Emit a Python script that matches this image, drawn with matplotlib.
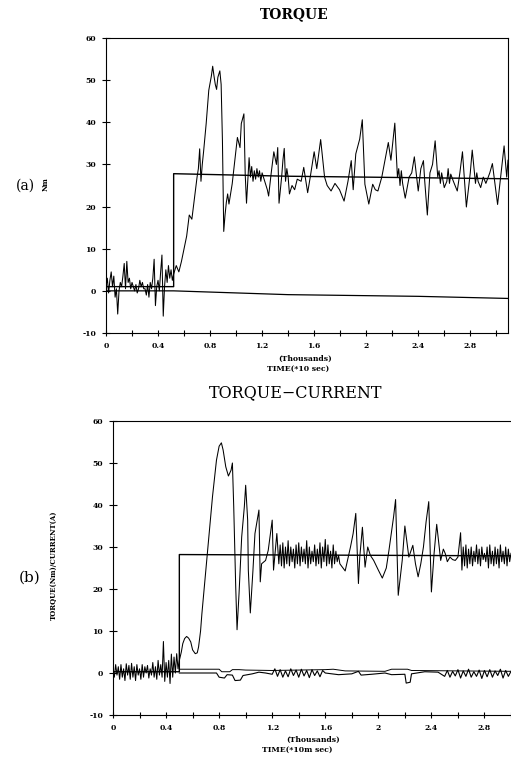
import numpy
import matplotlib
matplotlib.use('Agg')
import matplotlib.pyplot as plt

# ---- data: (time in thousands, value) ----
x_ticks = [0, 0.4, 0.8, 1.2, 1.6, 2.0, 2.4, 2.8]
x_labels = ['0', '0.4', '0.8', '1.2', '1.6', '2', '2.4', '2.8']
y_ticks = [-10, 0, 10, 20, 30, 40, 50, 60]
y_labels = ['-10', '0', '10', '20', '30', '40', '50', '60']

# (a) torque command (step) and the low trace near zero
ref_a = [(0.00, 1.0), (0.52, 1.0), (0.52, 27.8), (1.40, 27.2), (3.09, 26.6)]
low_a = [(0.00, 0.0), (0.52, 0.0), (1.40, -0.9), (2.40, -1.3), (3.09, -1.8)]

# (a) measured torque
torque_a = [
    (0.00, 1.0), (0.01, 3.0), (0.02, -0.5), (0.03, 2.5), (0.04, 4.5), (0.05, 1.0),
    (0.06, 3.5), (0.07, -1.5), (0.08, 0.5), (0.09, -5.5), (0.10, 0.0), (0.11, 2.0),
    (0.12, 1.0), (0.13, 3.5), (0.14, 6.5), (0.15, 0.5), (0.16, 7.0), (0.17, 2.0),
    (0.18, 3.0), (0.19, 0.5), (0.20, 2.0), (0.21, 1.0), (0.22, 0.0), (0.23, 1.5),
    (0.24, -0.5), (0.25, 0.5), (0.26, 2.5), (0.27, 1.0), (0.28, 2.0), (0.29, 0.5),
    (0.30, 0.5), (0.31, -1.0), (0.32, 1.5), (0.33, -1.5), (0.34, 2.0), (0.35, 0.5),
    (0.36, 3.0), (0.37, 7.5), (0.38, -3.5), (0.39, 1.0), (0.40, 2.5), (0.41, 0.0),
    (0.42, 4.5), (0.43, 8.5), (0.44, -6.0), (0.45, 1.0), (0.46, 5.0), (0.47, 2.0),
    (0.48, 6.0), (0.49, 3.0), (0.50, 5.0), (0.51, 2.5), (0.52, 4.0),
    (0.54, 6.0), (0.56, 4.5), (0.58, 7.0), (0.60, 10.0), (0.62, 13.0), (0.64, 18.0),
    (0.66, 17.0), (0.68, 22.0), (0.70, 27.0), (0.71, 29.0), (0.72, 33.7), (0.73, 26.0),
    (0.74, 30.0), (0.75, 33.0), (0.77, 39.7), (0.79, 47.6), (0.81, 51.0), (0.82, 53.3),
    (0.83, 51.0), (0.84, 49.0), (0.85, 47.8), (0.86, 50.7), (0.875, 52.2), (0.885, 49.0),
    (0.895, 35.6), (0.905, 14.1), (0.915, 18.0), (0.925, 21.0), (0.935, 23.0), (0.945, 20.6),
    (0.96, 23.5), (0.97, 25.4), (0.99, 31.0), (1.01, 36.4), (1.03, 34.0), (1.04, 39.7),
    (1.06, 42.0), (1.07, 27.7), (1.08, 20.8), (1.09, 26.0), (1.10, 31.6), (1.11, 27.0),
    (1.12, 29.5), (1.13, 26.0), (1.14, 28.5), (1.15, 26.5), (1.16, 29.0), (1.17, 27.0),
    (1.18, 28.5), (1.19, 26.0), (1.20, 28.0), (1.22, 26.0), (1.24, 24.0), (1.25, 22.5),
    (1.27, 28.0), (1.29, 33.0), (1.31, 30.0), (1.32, 34.0), (1.33, 20.8), (1.35, 27.0),
    (1.36, 31.0), (1.37, 33.8), (1.38, 26.0), (1.39, 29.0), (1.40, 27.0), (1.41, 23.0),
    (1.43, 25.0), (1.45, 24.0), (1.47, 26.5), (1.50, 26.0), (1.52, 29.3), (1.55, 23.3),
    (1.57, 27.0), (1.60, 33.0), (1.62, 29.0), (1.65, 35.9), (1.68, 27.0), (1.70, 25.0),
    (1.73, 23.7), (1.76, 25.5), (1.795, 24.0), (1.83, 21.3), (1.86, 26.0), (1.885, 30.9),
    (1.90, 24.0), (1.92, 32.5), (1.95, 36.0), (1.97, 40.6), (1.99, 25.3), (2.02, 20.6),
    (2.05, 25.3), (2.07, 24.0), (2.09, 23.7), (2.12, 27.0), (2.15, 32.0), (2.17, 35.2),
    (2.19, 31.0), (2.22, 39.8), (2.24, 27.0), (2.25, 29.0), (2.26, 25.0), (2.27, 28.5),
    (2.28, 25.5), (2.30, 22.0), (2.33, 27.0), (2.35, 28.0), (2.37, 31.8), (2.40, 23.7),
    (2.42, 29.0), (2.44, 30.9), (2.45, 26.0), (2.47, 18.0), (2.49, 28.0), (2.51, 30.0),
    (2.53, 35.6), (2.55, 27.0), (2.56, 28.5), (2.57, 25.5), (2.58, 28.0), (2.60, 24.5),
    (2.62, 26.0), (2.63, 29.0), (2.64, 25.5), (2.65, 27.7), (2.67, 26.0), (2.70, 23.7),
    (2.72, 28.0), (2.74, 33.0), (2.77, 19.9), (2.80, 28.0), (2.815, 33.4), (2.83, 28.5),
    (2.84, 25.5), (2.85, 28.0), (2.86, 26.0), (2.88, 24.5), (2.90, 27.0), (2.92, 25.5),
    (2.95, 28.0), (2.97, 30.2), (3.01, 20.5), (3.03, 26.0), (3.06, 34.4), (3.08, 27.0),
    (3.09, 31.0),
]

# (b) torque command and the two current traces near zero
ref_b = [(0.00, 0.3), (0.50, 0.3), (0.50, 28.2), (3.00, 27.9)]
cur_b_upper = [
    (0.50, 0.9), (0.80, 0.9), (0.82, 0.3), (0.88, 0.3), (0.90, 0.8), (0.95, 0.8),
    (1.00, 0.7), (1.20, 0.6), (1.60, 0.8), (1.66, 0.9), (1.75, 0.5), (2.05, 0.4),
    (2.10, 0.9), (2.22, 0.9), (2.25, 0.6), (2.60, 0.5), (3.00, 0.4),
]
cur_b_lower = [
    (0.50, 0.0), (0.78, 0.0), (0.80, -1.0), (0.84, -1.2), (0.86, -0.4), (0.90, -0.5),
    (0.92, -1.8), (0.96, -1.7), (0.98, -0.6), (1.05, -0.2), (1.10, 0.2), (1.15, 0.0),
    (1.20, -0.3), (1.22, 1.0), (1.24, -0.8), (1.26, 0.8), (1.28, -1.0), (1.30, 0.5),
    (1.32, -0.9), (1.34, 1.0), (1.36, -0.6), (1.38, 0.7), (1.40, -1.0), (1.42, 0.9),
    (1.44, -0.7), (1.46, 0.6), (1.48, -1.1), (1.50, 0.8), (1.52, -0.6), (1.54, 0.5),
    (1.56, -0.9), (1.58, 0.6), (1.60, 0.0), (1.70, -0.4), (1.80, -0.2), (1.85, 0.4),
    (1.87, -0.5), (1.95, -0.3), (2.05, 0.0), (2.10, -0.4), (2.20, -0.3), (2.21, -2.4),
    (2.24, -2.2), (2.25, -0.2), (2.35, 0.3), (2.45, 0.2), (2.50, -0.8), (2.52, 0.6),
    (2.54, -1.0), (2.56, 0.4), (2.58, -0.7), (2.60, 0.8), (2.62, -1.2), (2.64, 0.5),
    (2.66, -0.8), (2.68, 0.9), (2.70, -1.0), (2.72, 0.3), (2.74, -0.8), (2.76, 0.7),
    (2.78, -1.3), (2.80, 0.6), (2.82, -0.9), (2.84, 0.8), (2.86, -1.0), (2.88, 0.5),
    (2.90, -0.6), (2.92, 0.9), (2.94, -1.2), (2.96, 0.6), (2.98, -0.8), (3.00, 0.4),
]

# (b) measured torque
torque_b = [
    (0.00, 0.5), (0.01, -1.0), (0.02, 2.0), (0.03, -0.5), (0.04, 1.5), (0.05, -1.5),
    (0.06, 2.0), (0.07, -1.0), (0.08, 1.0), (0.09, -1.8), (0.10, 2.2), (0.11, -0.5),
    (0.12, 1.8), (0.13, -1.5), (0.14, 2.3), (0.15, -1.0), (0.16, 1.5), (0.17, -1.8),
    (0.18, 2.0), (0.19, -0.5), (0.20, 1.0), (0.21, -1.5), (0.22, 2.0), (0.23, -1.0),
    (0.24, 1.5), (0.25, 0.0), (0.26, 1.8), (0.27, -1.2), (0.28, 1.0), (0.29, -0.5),
    (0.30, 2.5), (0.31, -1.0), (0.32, 1.5), (0.33, -1.5), (0.34, 3.0), (0.35, -0.5),
    (0.36, 2.0), (0.37, -1.0), (0.38, 7.5), (0.39, -2.0), (0.40, 2.5), (0.41, -1.0),
    (0.42, 3.0), (0.43, -2.5), (0.44, 4.5), (0.45, -1.0), (0.46, 3.8), (0.47, 0.0),
    (0.48, 4.6), (0.49, 1.0), (0.50, 3.0),
    (0.515, 5.0), (0.526, 7.0), (0.54, 8.2), (0.555, 8.7), (0.57, 8.3), (0.586, 7.4),
    (0.60, 5.5), (0.62, 4.6), (0.635, 4.8), (0.645, 6.2), (0.66, 10.0), (0.67, 14.1),
    (0.695, 22.9), (0.72, 31.6), (0.75, 42.0), (0.78, 50.7), (0.80, 54.0), (0.817, 54.8),
    (0.83, 53.1), (0.85, 49.1), (0.87, 46.9), (0.89, 48.3), (0.90, 50.0), (0.91, 39.6),
    (0.925, 20.5), (0.935, 10.3), (0.95, 18.9), (0.97, 32.4), (0.99, 39.6), (1.00, 44.7),
    (1.015, 36.4), (1.02, 24.5), (1.035, 14.3), (1.055, 24.5), (1.07, 33.2), (1.09, 37.0),
    (1.10, 38.8), (1.11, 21.7), (1.12, 26.0), (1.15, 26.8), (1.17, 29.2), (1.20, 36.4),
    (1.21, 24.5), (1.235, 33.2), (1.25, 26.0),
    (1.26, 30.5), (1.27, 25.5), (1.28, 31.0), (1.29, 25.0), (1.30, 30.0), (1.31, 26.0),
    (1.32, 31.5), (1.33, 25.5), (1.34, 30.0), (1.35, 26.5), (1.36, 29.5), (1.37, 25.0),
    (1.38, 30.5), (1.39, 26.0), (1.40, 31.0), (1.41, 25.5), (1.42, 30.0), (1.43, 26.5),
    (1.44, 29.5), (1.45, 26.0), (1.46, 31.5), (1.47, 25.0), (1.48, 30.0), (1.49, 26.0),
    (1.50, 29.0), (1.51, 26.5), (1.52, 30.5), (1.53, 25.5), (1.54, 29.5), (1.55, 26.0),
    (1.56, 31.0), (1.57, 25.0), (1.58, 30.0), (1.59, 26.5), (1.60, 31.8), (1.61, 25.5),
    (1.62, 30.5), (1.63, 26.0), (1.64, 29.0), (1.65, 25.0), (1.66, 30.5), (1.67, 26.0),
    (1.68, 29.0), (1.69, 26.5), (1.70, 28.0),
    (1.71, 26.0), (1.75, 24.3), (1.79, 30.0), (1.81, 33.2), (1.83, 38.0), (1.85, 21.3),
    (1.86, 27.6), (1.88, 34.7), (1.90, 25.2), (1.92, 30.0), (1.94, 28.0), (1.965, 26.8),
    (2.00, 24.5), (2.03, 22.6), (2.06, 25.0), (2.08, 29.2), (2.115, 37.2), (2.13, 41.3),
    (2.15, 18.5), (2.18, 26.8), (2.20, 35.0), (2.23, 27.6), (2.26, 30.4), (2.28, 26.0),
    (2.30, 22.9), (2.32, 26.0), (2.34, 30.0), (2.36, 36.0), (2.38, 40.8), (2.40, 19.3),
    (2.42, 28.4), (2.44, 35.4), (2.47, 26.8), (2.49, 29.5), (2.505, 28.4), (2.52, 26.5),
    (2.54, 27.6), (2.56, 27.0), (2.58, 26.8), (2.60, 27.6), (2.62, 33.4), (2.63, 24.5),
    (2.64, 30.0), (2.65, 25.5), (2.66, 30.5), (2.67, 25.0), (2.68, 29.5), (2.69, 26.0),
    (2.70, 30.0), (2.71, 25.5), (2.72, 29.0), (2.73, 26.5), (2.74, 30.5), (2.75, 26.0),
    (2.76, 29.5), (2.77, 25.5), (2.78, 30.0), (2.79, 27.0), (2.80, 28.5), (2.81, 26.5),
    (2.82, 30.0), (2.83, 25.0), (2.84, 30.5), (2.85, 26.0), (2.86, 29.0), (2.87, 25.5),
    (2.88, 30.0), (2.89, 26.0), (2.90, 29.5), (2.91, 25.0), (2.92, 30.5), (2.93, 26.5),
    (2.94, 29.0), (2.95, 26.0), (2.96, 30.0), (2.97, 25.5), (2.98, 29.5), (2.99, 26.5),
    (3.00, 28.5),
]

SERIF = 'DejaVu Serif'


def trace(ax, pts, lw=0.8):
    arr = numpy.array(pts)
    ax.plot(arr[:, 0], arr[:, 1], color='black', linewidth=lw)


def style_axes(ax, xmax):
    ax.set_xlim(0, xmax)
    ax.set_ylim(-10, 60)
    ax.set_xticks(x_ticks)
    ax.set_xticklabels(x_labels)
    ax.set_xticks(numpy.array(x_ticks) + 0.2, minor=True)
    ax.set_yticks(y_ticks)
    ax.set_yticklabels(y_labels)
    ax.tick_params(axis='both', which='both', direction='inout', width=0.8,
                   labelsize=5.5, pad=4)
    ax.tick_params(axis='x', which='major', length=5)
    ax.tick_params(axis='x', which='minor', length=4)
    ax.tick_params(axis='y', length=6)
    for lab in ax.get_xticklabels() + ax.get_yticklabels():
        lab.set_fontfamily(SERIF)
        lab.set_fontweight('bold')
    for sp in ax.spines.values():
        sp.set_linewidth(0.8)


fig = plt.figure(figsize=(5.11, 7.59), dpi=100)

# ---- (a) TORQUE ----
ax1 = fig.add_axes([106 / 511, 1 - 333 / 759, 402 / 511, 295 / 759])
trace(ax1, ref_a, 1.0)
trace(ax1, low_a, 0.9)
trace(ax1, torque_a, 0.75)
style_axes(ax1, 3.09)

fig.text(294 / 511, 1 - 14 / 759, 'TORQUE', ha='center', va='center',
         fontsize=10, fontweight='bold', family=SERIF)
fig.text(305 / 511, 1 - 359 / 759, '(Thousands)', ha='center', va='center',
         fontsize=5.5, fontweight='bold', family=SERIF)
fig.text(298 / 511, 1 - 369 / 759, 'TIME(*10 sec)', ha='center', va='center',
         fontsize=5.5, fontweight='bold', family=SERIF)
fig.text(25 / 511, 1 - 186 / 759, '(a)', ha='center', va='center',
         fontsize=10, family=SERIF)
fig.text(46 / 511, 1 - 184 / 759, 'Nm', ha='center', va='center', rotation=90,
         fontsize=5, fontweight='bold', family=SERIF)

# ---- (b) TORQUE-CURRENT ----
ax2 = fig.add_axes([113 / 511, 1 - 715 / 759, 398 / 511, 294 / 759])
trace(ax2, ref_b, 1.0)
trace(ax2, cur_b_upper, 0.7)
trace(ax2, cur_b_lower, 0.8)
trace(ax2, torque_b, 0.75)
style_axes(ax2, 3.0)
ax2.spines['right'].set_visible(False)

fig.text(296 / 511, 1 - 393 / 759, 'TORQUE\u2212CURRENT', ha='center', va='center',
         fontsize=11.5, family=SERIF)
fig.text(313 / 511, 1 - 740 / 759, '(Thousands)', ha='center', va='center',
         fontsize=5.5, fontweight='bold', family=SERIF)
fig.text(297 / 511, 1 - 750 / 759, 'TIME(*10m sec)', ha='center', va='center',
         fontsize=5.5, fontweight='bold', family=SERIF)
fig.text(30 / 511, 1 - 578 / 759, '(b)', ha='center', va='center',
         fontsize=11, family=SERIF)
fig.text(54 / 511, 1 - 565 / 759, 'TORQUE(Nm)/CURRENT(A)', ha='center', va='center',
         rotation=90, fontsize=5, fontweight='bold', family=SERIF)

fig.savefig('out.png', dpi=100)
